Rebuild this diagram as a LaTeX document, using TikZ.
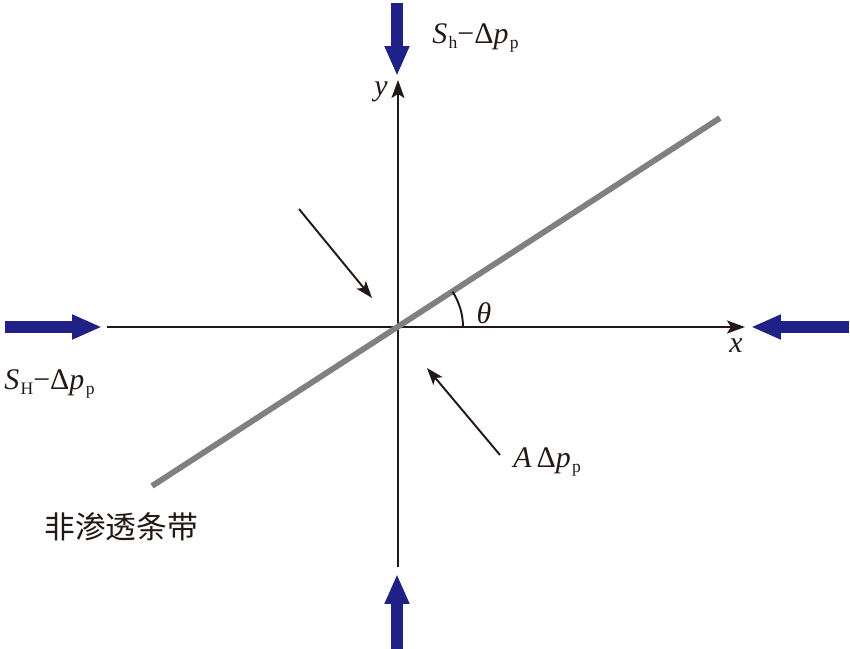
\documentclass[tikz,border=0pt]{standalone}
\usepackage{fontspec}
\setmainfont{Liberation Serif}
\newfontfamily\cjk{Noto Sans CJK SC}
\usetikzlibrary{arrows.meta}
\definecolor{ink}{RGB}{35,24,21}
\definecolor{pushblue}{RGB}{31,33,135}
\definecolor{bandgray}{RGB}{128,128,128}
\newcommand{\lowidx}[1]{\kern0.8pt\raisebox{-0.35ex}{\fontsize{10}{10}\selectfont #1}}

\begin{document}
\begin{tikzpicture}
      [x=0.02cm,y=-0.02cm,
       every node/.style={inner sep=0pt,text=ink,font=\fontsize{17}{20}\selectfont},
       axis/.style={ink,line width=1.1pt,-{Stealth[length=0.36cm,width=0.26cm,inset=0.08cm]}},
       push/.style={pushblue,line width=0.24cm,-{Triangle[length=0.6cm,width=0.46cm]}},
       thin arrow/.style={ink,line width=1.1pt,-{Stealth[length=0.34cm,width=0.24cm,inset=0.08cm]}}]
      \useasboundingbox (0,0) rectangle (850,649);

      % axes
      \coordinate (O) at (398,327);
      \coordinate (xl) at (107,327);
      \coordinate (xr) at (745,327);
      \coordinate (yb) at (398,567);
      \coordinate (yt) at (398,80);
      \draw [axis] (xl) -- (xr);
      \draw [axis] (yb) -- (yt);
      \node [anchor=north] (xlab) at (736,338) {\textit{x}};
      \node [anchor=east] (ylab) at (388,92) {\textit{y}};

      % band
      \coordinate (b1) at (152,486);
      \coordinate (b2) at (720,118);
      \draw [bandgray,line width=3.3pt] (b1) -- (b2);
      \draw [ink,line width=1.1pt] (463,327) arc [start angle=0,end angle=-33,radius=65];
      \node (theta) at (484,313) {\textit{θ}};

      % far-field stresses
      \coordinate (t1) at (397,3);   \coordinate (t2) at (397,76);
      \coordinate (l1) at (5,327);   \coordinate (l2) at (102,327);
      \coordinate (r1) at (849,327); \coordinate (r2) at (751,327);
      \coordinate (d1) at (397,649); \coordinate (d2) at (397,574);
      \draw [push] (t1) -- (t2);
      \draw [push] (l1) -- (l2);
      \draw [push] (r1) -- (r2);
      \draw [push] (d1) -- (d2);
      \node [anchor=west] (sh) at (432,38) {\textit{S}\lowidx{h}−Δ\textit{p}\lowidx{p}};
      \node [anchor=west] (sH) at (4,384) {\textit{S}\lowidx{H}−Δ\textit{p}\lowidx{p}};

      % pore pressure
      \coordinate (a1) at (299,209); \coordinate (a2) at (372,298);
      \coordinate (c1) at (500,455); \coordinate (c2) at (427,368);
      \draw [thin arrow] (a1) -- (a2);
      \draw [thin arrow] (c1) -- (c2);
      \node [anchor=west] (adp) at (513,462) {\textit{A}\,Δ\textit{p}\lowidx{p}};

      \node [anchor=west] (band) at (44,527) {\fontsize{17.5}{20}\selectfont\cjk 非渗透条带};
    \end{tikzpicture}
\end{document}
